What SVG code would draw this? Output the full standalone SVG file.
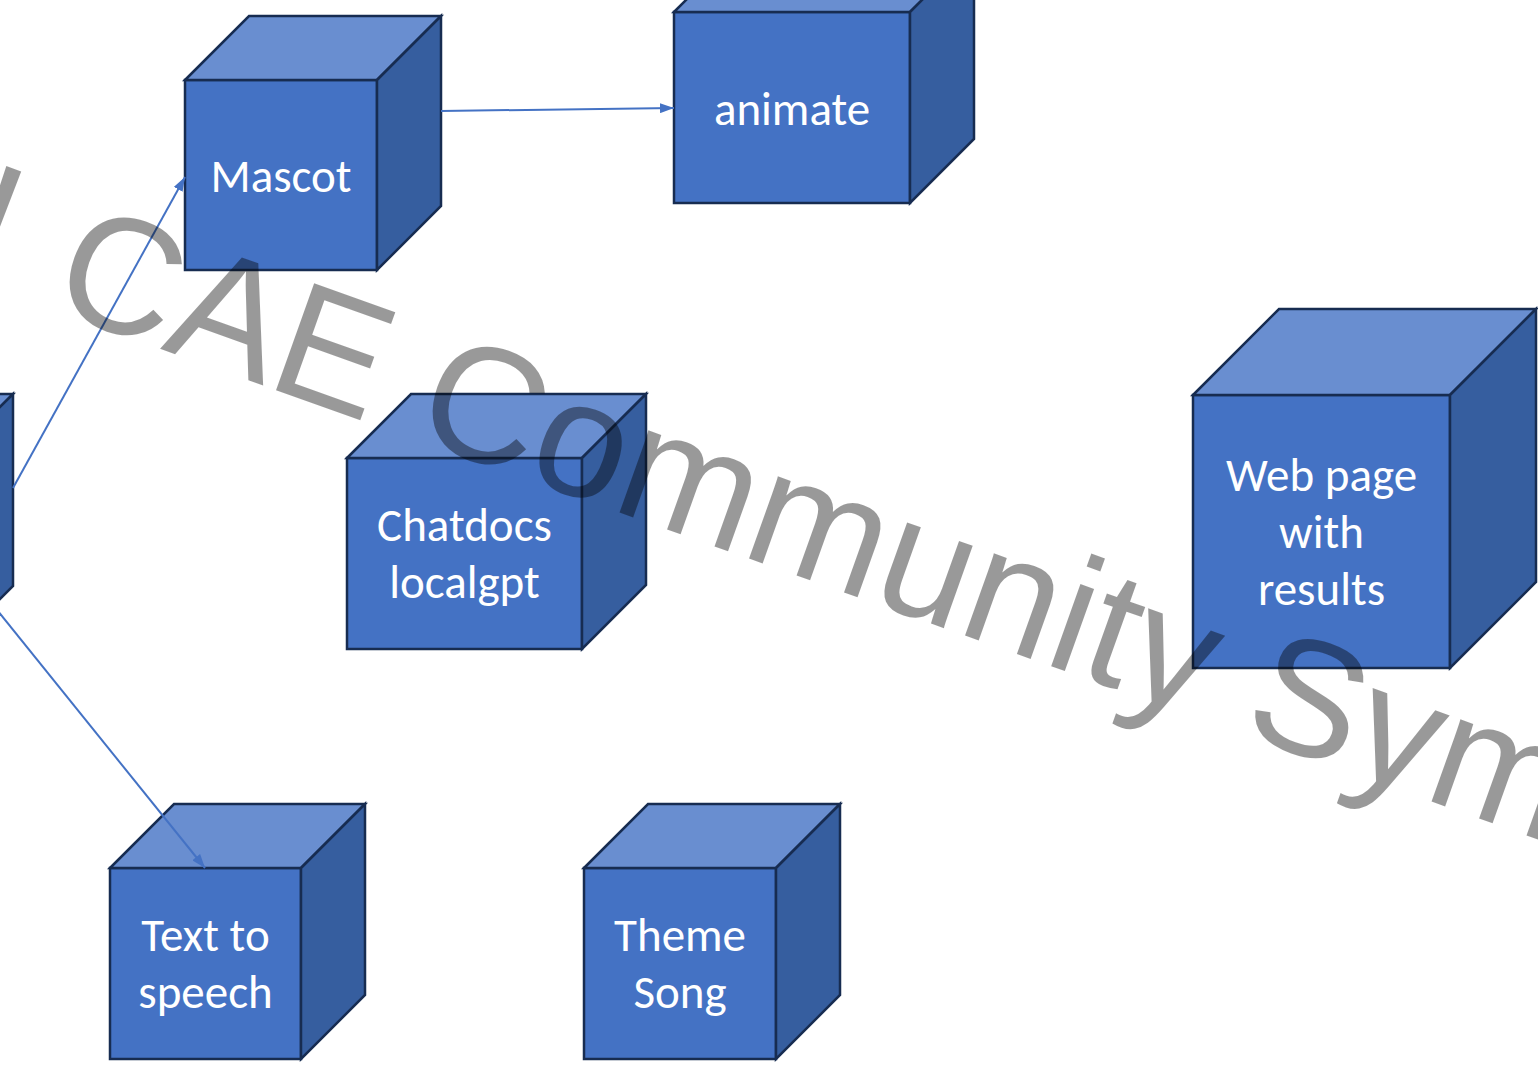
<svg xmlns="http://www.w3.org/2000/svg" width="1538" height="1067" viewBox="0 0 1538 1067">
<defs>
<style>
.front{fill:#4472C4;stroke:#172C51;stroke-width:2.5;stroke-linejoin:miter}
.top{fill:#698ED0;stroke:#172C51;stroke-width:2.5}
.side{fill:#365E9F;stroke:#172C51;stroke-width:2.5}
.lbl{font-family:Carlito,Calibri,Lato,"Open Sans",sans-serif;font-size:47px;fill:#FFFFFF;text-anchor:middle}
.conn{stroke:#4472C4;stroke-width:2;fill:none}
.wm{font-family:"Liberation Sans",Arial,sans-serif;font-size:165px;fill:#000000;fill-opacity:0.4}
</style>
<marker id="arr" viewBox="0 0 14 10" refX="14" refY="5" markerWidth="14" markerHeight="10" markerUnits="userSpaceOnUse" orient="auto">
<path d="M0,0 L14,5 L0,10 Z" fill="#4472C4"/>
</marker>
</defs>
<rect width="1538" height="1067" fill="#FFFFFF"/>

<g id="node-left">
<rect class="front" x="-242" y="458" width="191" height="192"/>
<polygon class="top" points="-242,458 -178,394 13,394 -51,458"/>
<polygon class="side" points="-51,458 13,394 13,586 -51,650"/>
</g>

<g id="node-mascot">
<rect class="front" x="185" y="80" width="192" height="190"/>
<polygon class="top" points="185,80 249,16 441,16 377,80"/>
<polygon class="side" points="377,80 441,16 441,206 377,270"/>
<text class="lbl" x="281" y="192">Mascot</text>
</g>

<g id="node-animate">
<rect class="front" x="674" y="12" width="236" height="191"/>
<polygon class="top" points="674,12 738,-52 974,-52 910,12"/>
<polygon class="side" points="910,12 974,-52 974,139 910,203"/>
<text class="lbl" x="792" y="125">animate</text>
</g>

<g id="node-chatdocs">
<rect class="front" x="347" y="458" width="235" height="191"/>
<polygon class="top" points="347,458 411,394 646,394 582,458"/>
<polygon class="side" points="582,458 646,394 646,585 582,649"/>
<text class="lbl" x="464.5" y="541">Chatdocs</text>
<text class="lbl" x="464.5" y="598">localgpt</text>
</g>

<g id="node-webpage">
<rect class="front" x="1193" y="395" width="257" height="273"/>
<polygon class="top" points="1193,395 1279,309 1536,309 1450,395"/>
<polygon class="side" points="1450,395 1536,309 1536,582 1450,668"/>
<text class="lbl" x="1321.5" y="491">Web page</text>
<text class="lbl" x="1321.5" y="548">with</text>
<text class="lbl" x="1321.5" y="605">results</text>
</g>

<g id="node-tts">
<rect class="front" x="110" y="868" width="191" height="191"/>
<polygon class="top" points="110,868 174,804 365,804 301,868"/>
<polygon class="side" points="301,868 365,804 365,995 301,1059"/>
<text class="lbl" x="205.5" y="951">Text to</text>
<text class="lbl" x="205.5" y="1008">speech</text>
</g>

<g id="node-theme">
<rect class="front" x="584" y="868" width="192" height="191"/>
<polygon class="top" points="584,868 648,804 840,804 776,868"/>
<polygon class="side" points="776,868 840,804 840,995 776,1059"/>
<text class="lbl" x="680" y="951">Theme</text>
<text class="lbl" x="680" y="1008">Song</text>
</g>

<g id="connectors">
<line class="conn" x1="13" y1="488" x2="185" y2="177" marker-end="url(#arr)"/>
<line class="conn" x1="441" y1="111" x2="674" y2="108" marker-end="url(#arr)"/>
<line class="conn" x1="-7" y1="605" x2="205" y2="868" marker-end="url(#arr)"/>
</g>

<g id="watermark">
<text class="wm" transform="translate(-39,278) rotate(19.6)"><tspan dx="-10" dy="-7">!</tspan><tspan dx="10" dy="7"> CAE Community Symposium</tspan></text>
</g>
</svg>
